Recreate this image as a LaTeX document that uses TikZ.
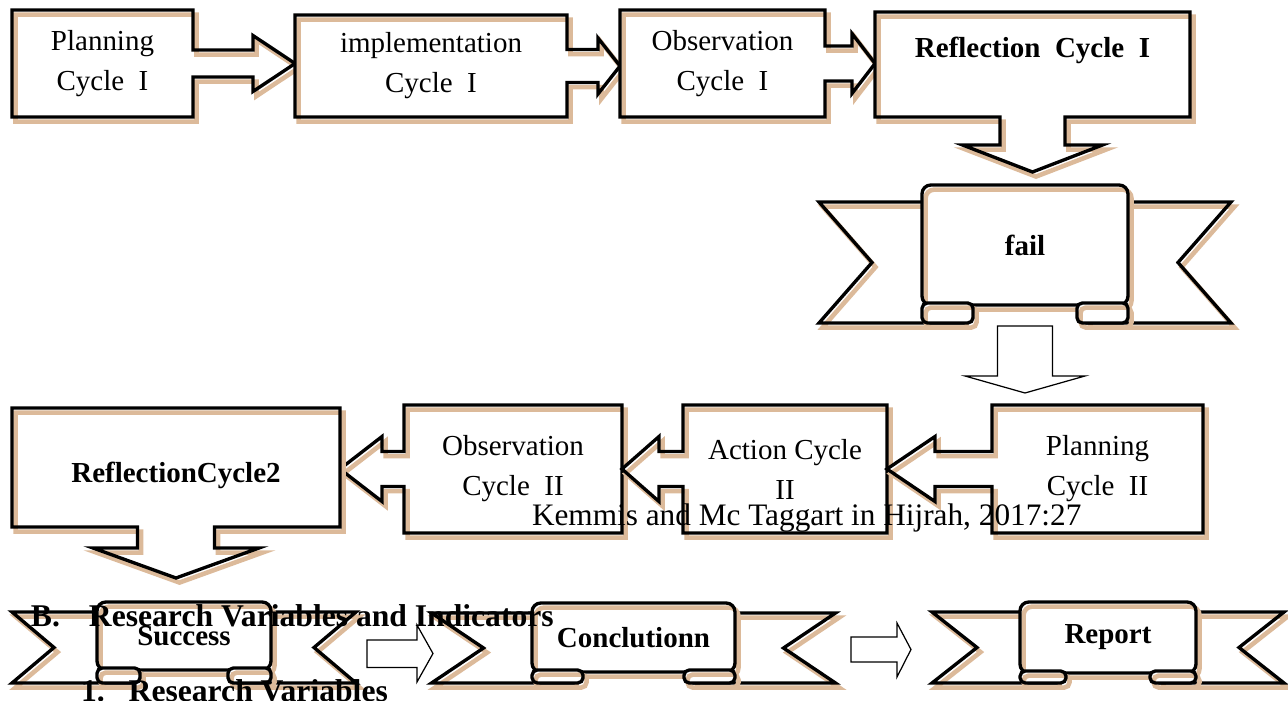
\documentclass[tikz,border=0pt]{standalone}
\usepackage{fontspec}
\setmainfont{Liberation Serif}
\usetikzlibrary{calc, backgrounds}
\definecolor{shadowtan}{RGB}{220,186,154}

% side pieces and rolls of a ribbon banner round a panel node
% #1 panel, #2 outer half width, #3 notch half width, #4 top, #5 bottom (from centre), #6 roll width
\newcommand{\ribbonsides}[6]{%
  \begin{scope}[on background layer]
    \draw[outline] ($(#1.west)+({#6-10},#4)$) -- ($(#1.center)+(-#2,#4)$)
      -- ($(#1.center)+(-#3,{(#4+#5)/2})$) -- ($(#1.center)+(-#2,#5)$)
      -- ($(#1.west)+({#6-10},#5)$) -- cycle;
    \draw[outline] ($(#1.east)+({10-#6},#4)$) -- ($(#1.center)+(#2,#4)$)
      -- ($(#1.center)+(#3,{(#4+#5)/2})$) -- ($(#1.center)+(#2,#5)$)
      -- ($(#1.east)+({10-#6},#5)$) -- cycle;
  \end{scope}
  \draw[roll] ($(#1.south west)+(0,-2)$) rectangle ($(#1.west)+(#6,#5)$);
  \draw[roll] ($(#1.south east)+(0,-2)$) rectangle ($(#1.east)+(-#6,#5)$);
}

\begin{document}
\begin{tikzpicture}[x=0.02cm, y=-0.02cm,
  every node/.style={inner sep=0pt, outer sep=0pt},
  boxtext/.style={align=center, font=\fontsize{16.5}{22.7}\selectfont},
  boldtext/.style={font=\fontsize{16.5}{20}\selectfont\bfseries},
  outline/.style={preaction={fill=white},
    preaction={draw=shadowtan, line width=2.6pt, transform canvas={shift={(2pt,-2.6pt)}}},
    draw=black, line width=1.9pt, line join=miter},
  panel/.style={outline, rounded corners=5pt, boldtext},
  roll/.style={outline, rounded corners=3pt},
  thinarrow/.style={draw=black, fill=white, line width=0.7pt}]
\useasboundingbox (0,0) rectangle (1288,700);

% First cycle
\node[boxtext, minimum width=3.62cm, minimum height=2.14cm] (plan1) at (102.5,63.5) {Planning\\Cycle~~I};
\node[boxtext, minimum width=5.44cm, minimum height=2.04cm] (impl1) at (431,66) {implementation\\Cycle~~I};
\node[boxtext, minimum width=4.10cm, minimum height=2.14cm] (obs1) at (722.5,63.5) {Observation\\Cycle~~I};
\node[minimum width=6.30cm, minimum height=2.10cm] (refl1) at (1032.5,64.5) {};
\node[boldtext] (refl1txt) at ($(refl1)+(0,-14)$) {Reflection~~Cycle~~I};

\begin{scope}[on background layer]
% boxes with block arrows to the right
\draw[outline] (plan1.south west) -- (plan1.north west) -- (plan1.north east)
  -- ($(plan1.east)+(0,-13.5)$) -- ++(60,0) -- ++(0,-14.5) -- (plan1.east -| impl1.west)
  -- ($(plan1.east)+(60,28)$) -- ++(0,-14.5) -- ($(plan1.east)+(0,13.5)$)
  -- (plan1.south east) -- cycle;
\draw[outline] (impl1.south west) -- (impl1.north west) -- (impl1.north east)
  -- ($(impl1.east)+(0,-16.5)$) -- ++(31,0) -- ++(0,-11.5) -- (impl1.east -| obs1.west)
  -- ($(impl1.east)+(31,28)$) -- ++(0,-11.5) -- ($(impl1.east)+(0,16.5)$)
  -- (impl1.south east) -- cycle;
\draw[outline] (obs1.south west) -- (obs1.north west) -- (obs1.north east)
  -- ($(obs1.east)+(0,-17.5)$) -- ++(27,0) -- ++(0,-12.5) -- (obs1.east -| refl1.west)
  -- ($(obs1.east)+(27,30)$) -- ++(0,-12.5) -- ($(obs1.east)+(0,17.5)$)
  -- (obs1.south east) -- cycle;
% reflection box with block arrow down
\draw[outline] (refl1.north west) -- (refl1.north east) -- (refl1.south east)
  -- ($(refl1.south)+(32.5,0)$) -- ++(0,28) -- ++(37.5,0) -- ($(refl1.south)+(0,55)$)
  -- ($(refl1.south)+(-70,28)$) -- ++(37.5,0) -- ++(0,-28) -- (refl1.south west) -- cycle;
\end{scope}

% Result of the first cycle
\node[panel, minimum width=4.12cm, minimum height=2.40cm] (fail) at (1025,245) {fail};
\ribbonsides{fail}{206}{153}{-43}{78}{51}
\draw[thinarrow] ($(fail.south)+(-27.5,21)$) -- ++(55,0) -- ++(0,50) -- ++(32.5,0)
  -- ($(fail.south)+(0,88)$) -- ($(fail.south)+(-60,71)$) -- ++(32.5,0) -- cycle;

% Second cycle, right to left
\node[minimum width=6.56cm, minimum height=2.38cm] (refl2) at (176,467.5) {};
\node[boldtext] (refl2txt) at ($(refl2)+(0,7.5)$) {ReflectionCycle2};
\node[boxtext, minimum width=4.36cm, minimum height=2.56cm] (obs2) at (513,469) {Observation\\Cycle~~II};
\node[boxtext, minimum width=4.08cm, minimum height=2.56cm] (act2) at (785,469) {Action Cycle\\II};
\node[boxtext, minimum width=4.22cm, minimum height=2.56cm] (plan2) at (1097.5,469) {Planning\\Cycle~~II};

\begin{scope}[on background layer]
% boxes with block arrows to the left
\draw[outline] (obs2.south east) -- (obs2.north east) -- (obs2.north west)
  -- ($(obs2.west)+(0,-17.5)$) -- ++(-22,0) -- ++(0,-15) -- (obs2.west -| refl2.east)
  -- ($(obs2.west)+(-22,32.5)$) -- ++(0,-15) -- ($(obs2.west)+(0,17.5)$)
  -- (obs2.south west) -- cycle;
\draw[outline] (act2.south east) -- (act2.north east) -- (act2.north west)
  -- ($(act2.west)+(0,-17.5)$) -- ++(-24,0) -- ++(0,-15) -- (act2.west -| obs2.east)
  -- ($(act2.west)+(-24,32.5)$) -- ++(0,-15) -- ($(act2.west)+(0,17.5)$)
  -- (act2.south west) -- cycle;
\draw[outline] (plan2.south east) -- (plan2.north east) -- (plan2.north west)
  -- ($(plan2.west)+(0,-17.5)$) -- ++(-57,0) -- ++(0,-15) -- (plan2.west -| act2.east)
  -- ($(plan2.west)+(-57,32.5)$) -- ++(0,-15) -- ($(plan2.west)+(0,17.5)$)
  -- (plan2.south west) -- cycle;
\draw[outline] (refl2.north west) -- (refl2.north east) -- (refl2.south east)
  -- ($(refl2.south)+(38.5,0)$) -- ++(0,21) -- ++(44.5,0) -- ($(refl2.south)+(0,51)$)
  -- ($(refl2.south)+(-83,21)$) -- ++(44.5,0) -- ++(0,-21) -- (refl2.south west) -- cycle;
\end{scope}

\node[anchor=base west, font=\fontsize{17.8}{20}\selectfont] (source) at (532,525) {Kemmis and Mc Taggart in Hijrah, 2017:27};

% Final banners
\node[panel, minimum width=3.48cm, minimum height=1.36cm] (success) at (184,636) {Success};
\ribbonsides{success}{172}{130}{-24}{47}{43}
\node[panel, minimum width=4.06cm, minimum height=1.38cm] (concl) at (633.5,637.5) {Conclutionn};
\ribbonsides{concl}{202}{150}{-24.5}{45.5}{51}
\node[panel, minimum width=3.52cm, minimum height=1.42cm] (report) at (1108,637.5) {Report};
\ribbonsides{report}{176}{131}{-25.5}{45.5}{46}

\draw[thinarrow] ($(success.east)+(96,4)$) -- ++(50,0) -- ++(0,-15) -- ($(success.east)+(162,17.5)$)
  -- ++(-16,28.5) -- ++(0,-14.5) -- ++(-50,0) -- cycle;
\draw[thinarrow] ($(concl.east)+(116,-0.5)$) -- ++(46,0) -- ++(0,-14) -- ($(concl.east)+(176,12)$)
  -- ++(-14,27.5) -- ++(0,-15) -- ++(-46,0) -- cycle;

% Headings of the page running over the figure
\node[anchor=base west, font=\fontsize{18}{20}\selectfont\bfseries] (secB) at (31,626) {B.\hspace{0.58cm}Research Variables and Indicators};
\node[anchor=base west, font=\fontsize{18}{20}\selectfont\bfseries] (sec1) at (81,701) {1.\hspace{0.48cm}Research Variables};
\end{tikzpicture}
\end{document}
